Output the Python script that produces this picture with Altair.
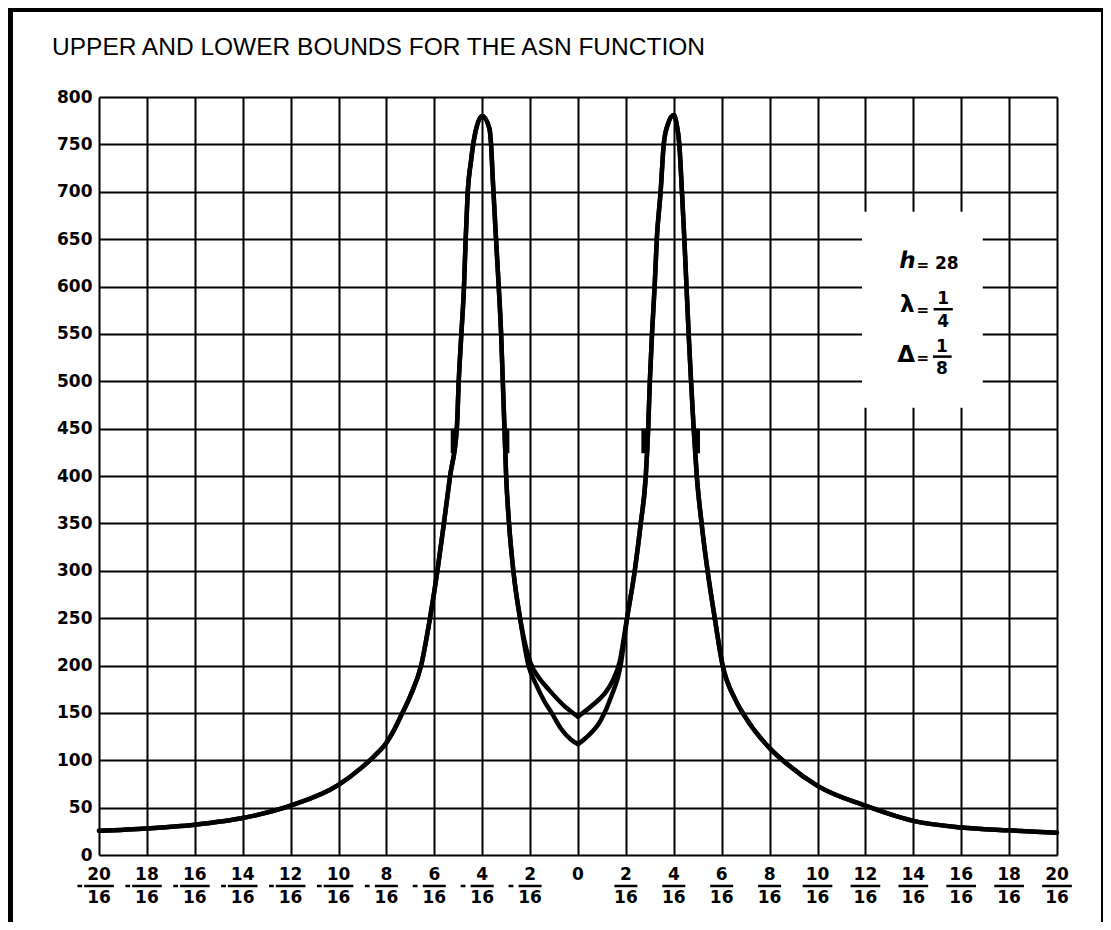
import altair as alt
import pandas as pd

W, H = 958, 758

TITLE = "UPPER AND LOWER BOUNDS FOR THE ASN FUNCTION"

# x is measured in sixteenths (tick labels are n/16)
upper_left_x = [-20, -18, -16, -14, -12, -10, -9, -8.5, -8, -7.7, -7.35, -7, -6.55, -6.18, -5.87,
                -5.6, -5.34, -5.06, -4.98, -4.87, -4.76, -4.69, -4.61, -4.47, -4.33, -4.0, -3.70,
                -3.63, -3.56, -3.42, -3.31, -3.21, -3.14, -3.07, -3.0, -2.88, -2.70, -2.42, -2.2,
                -2.0, -1.6, -1.2, -0.6, 0]
upper_left_y = [25.5, 28, 32, 39, 52, 74, 93, 104.5, 118.5, 131, 149, 168, 200, 250, 300,
                350, 400, 450, 500, 550, 600, 650, 697, 732, 757, 780, 767,
                750, 714, 649, 600, 550, 500, 450, 400, 350, 300, 250, 222,
                204, 186, 174, 158, 146]

upper_right_x = [0, 0.6, 1.1, 1.45, 1.75, 2.0, 2.37, 2.62, 2.83, 2.93, 3.0, 3.09, 3.2, 3.29, 3.45,
                 3.58, 3.75, 4.0, 4.12, 4.23, 4.34, 4.44, 4.53, 4.62, 4.72, 4.83, 4.96, 5.16, 5.41,
                 5.71, 6.04, 6.55, 7.0, 8.03, 8.73, 10, 12, 14, 16, 18, 20]
upper_right_y = [146, 158, 170, 184, 205, 243, 300, 350, 400, 450, 500, 550, 600, 650, 700,
                 750, 771, 781, 771, 750, 700, 650, 600, 550, 500, 450, 400, 350, 300,
                 250, 200, 165, 145, 112, 96, 73, 52, 36, 29, 26, 23.5]

# lower bound differs from the upper one only near the centre
lower_left_x = upper_left_x[:38] + [-2.07, -1.75, -1.4, -1.1, -0.7, -0.3, 0]
lower_left_y = upper_left_y[:38] + [200, 180, 162, 150, 133, 122, 117]
lower_right_x = [0, 0.3, 0.95, 1.4, 1.78, 2.05] + upper_right_x[6:]
lower_right_y = [117, 123, 142, 168, 200, 250] + upper_right_y[6:]

# short steps drawn where the curves pass 425-450
step_x = [-5.2, -2.98, 2.76, 4.98]
step_y0 = [424, 424, 424, 424]
step_y1 = [450, 450, 450, 450]

# blank box behind the parameter text
box_x = [11.86, 16.9]
box_y = [472, 679]

tick_values = list(range(-20, 21, 2))
y_values = list(range(0, 801, 50))

rows = []
for name, side, xs, ys in [("upper", "L", upper_left_x, upper_left_y),
                           ("upper", "R", upper_right_x, upper_right_y),
                           ("lower", "L", lower_left_x, lower_left_y),
                           ("lower", "R", lower_right_x, lower_right_y)]:
    for i, (a, b) in enumerate(zip(xs, ys)):
        rows.append({"curve": name, "part": name + side, "x": a, "y": b, "i": i})
curves = pd.DataFrame(rows)

steps = pd.DataFrame({"x": step_x, "y": step_y0, "y2": step_y1})
box = pd.DataFrame({"x": [box_x[0]], "x2": [box_x[1]], "y": [box_y[0]], "y2": [box_y[1]]})

ticks = pd.DataFrame({"s": tick_values})
ticks["num"] = ticks["s"].abs().astype(str)
fr = ticks[ticks["s"] != 0].copy()
fr["den"] = "16"
fr["hw"] = fr["s"].abs().apply(lambda v: 0.62 if v >= 10 else 0.48)
fr["b0"] = fr["s"] - fr["hw"]
fr["b1"] = fr["s"] + fr["hw"]
neg = fr[fr["s"] < 0].copy()
neg["m0"] = neg["s"] - 0.9
neg["m1"] = neg["s"] - 0.7

xscale = alt.Scale(domain=[-20, 20], nice=False, zero=False)
yscale = alt.Scale(domain=[0, 800], nice=False)

FONT = "DejaVu Sans"

base_x = alt.X("x:Q", scale=xscale,
               axis=alt.Axis(values=tick_values, labels=False, ticks=False, domain=False,
                             grid=True, gridColor="black", gridWidth=2, gridOpacity=1, title=None))
base_y = alt.Y("y:Q", scale=yscale,
               axis=alt.Axis(values=y_values, ticks=False, domain=False, grid=True,
                             gridColor="black", gridWidth=2, gridOpacity=1, title=None,
                             labelFont=FONT, labelFontWeight="bold", labelFontSize=17,
                             labelColor="black", labelPadding=7))

lines = alt.Chart(curves).mark_line(color="black", strokeWidth=4.5, interpolate="monotone",
                                    strokeJoin="round", strokeCap="round").encode(
    x=base_x, y=base_y, detail="part:N", order="i:Q")

step_marks = alt.Chart(steps).mark_rule(color="black", strokeWidth=5.5).encode(
    x=alt.X("x:Q", scale=xscale), y=alt.Y("y:Q", scale=yscale), y2="y2:Q")

box_mark = alt.Chart(box).mark_rect(fill="white").encode(
    x=alt.X("x:Q", scale=xscale), x2="x2:Q", y=alt.Y("y:Q", scale=yscale), y2="y2:Q")

num_text = alt.Chart(ticks).mark_text(font=FONT, fontWeight="bold", fontSize=17, color="black",
                                      baseline="middle", align="center").encode(
    x=alt.X("s:Q", scale=xscale), y=alt.value(H + 20), text="num:N")
den_text = alt.Chart(fr).mark_text(font=FONT, fontWeight="bold", fontSize=17, color="black",
                                   baseline="middle", align="center").encode(
    x=alt.X("s:Q", scale=xscale), y=alt.value(H + 43), text="den:N")
bars = alt.Chart(fr).mark_rule(color="black", strokeWidth=2.5).encode(
    x=alt.X("b0:Q", scale=xscale), x2="b1:Q", y=alt.value(H + 31))
minus = alt.Chart(neg).mark_rule(color="black", strokeWidth=2.5).encode(
    x=alt.X("m0:Q", scale=xscale), x2="m1:Q", y=alt.value(H + 31))

# parameter block: h = 28, lambda = 1/4, Delta = 1/8
par_sym = pd.DataFrame({"x": [13.75, 13.75, 13.7], "y": [627, 580, 528], "t": ["ℎ", "λ", "Δ"]})
par_eq = pd.DataFrame({"x": [14.4, 14.4, 14.4], "y": [623, 575, 525], "t": ["=", "=", "="]})
par_val = pd.DataFrame({"x": [15.4, 15.25, 15.2, 15.25, 15.2],
                        "y": [624, 587, 536, 563, 513], "t": ["28", "1", "1", "4", "8"]})
par_bar = pd.DataFrame({"x": [14.85, 14.82], "x2": [15.65, 15.6], "y": [576, 526]})

sym = alt.Chart(par_sym).mark_text(font="DejaVu Sans", fontWeight="bold", fontSize=23,
                                   color="black", baseline="middle", align="center").encode(
    x=alt.X("x:Q", scale=xscale), y=alt.Y("y:Q", scale=yscale), text="t:N")
eq = alt.Chart(par_eq).mark_text(font=FONT, fontWeight="bold", fontSize=15, color="black",
                                 baseline="middle", align="center").encode(
    x=alt.X("x:Q", scale=xscale), y=alt.Y("y:Q", scale=yscale), text="t:N")
val = alt.Chart(par_val).mark_text(font=FONT, fontWeight="bold", fontSize=17, color="black",
                                   baseline="middle", align="center").encode(
    x=alt.X("x:Q", scale=xscale), y=alt.Y("y:Q", scale=yscale), text="t:N")
pbar = alt.Chart(par_bar).mark_rule(color="black", strokeWidth=2.5).encode(
    x=alt.X("x:Q", scale=xscale), x2="x2:Q", y=alt.Y("y:Q", scale=yscale))

# title and outer frame of the figure
one = pd.DataFrame({"t": [TITLE]})
title_mark = alt.Chart(one).mark_text(
    font="Liberation Sans Narrow, Liberation Sans, sans-serif", fontSize=24.5, color="black",
    align="left", baseline="middle").encode(x=alt.value(-47), y=alt.value(-49), text="t:N")
frame_l = alt.Chart(one).mark_rule(color="black", strokeWidth=5).encode(
    x=alt.value(-88.5), y=alt.value(-89), y2=alt.value(H + 80))
frame_t = alt.Chart(one).mark_rule(color="black", strokeWidth=4).encode(
    x=alt.value(-91), x2=alt.value(1006), y=alt.value(-87))
frame_r = alt.Chart(one).mark_rule(color="black", strokeWidth=4).encode(
    x=alt.value(1004), y=alt.value(-89), y2=alt.value(H + 80))

chart = alt.layer(
    lines, box_mark, step_marks, num_text, den_text, bars, minus,
    sym, eq, val, pbar, title_mark, frame_l, frame_t, frame_r
).properties(
    width=W, height=H,
    padding={"left": 91, "top": 89, "right": 46, "bottom": 67},
    autosize=alt.AutoSizeParams(type="none")
).configure_view(
    stroke="black", strokeWidth=3
).configure(background="white")

chart.save("out.html", embed_options={"renderer": "svg", "actions": False})
